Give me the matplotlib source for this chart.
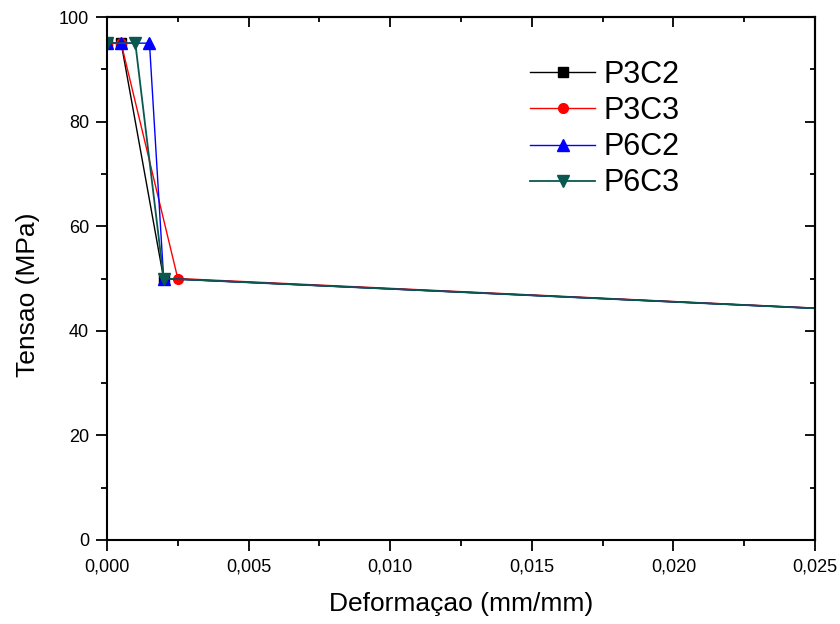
import matplotlib
matplotlib.use('Agg')
import matplotlib.pyplot as plt
from matplotlib.ticker import MultipleLocator, FuncFormatter

plt.rcParams['font.family'] = ['Liberation Sans', 'DejaVu Sans']

# dados (deformacao, tensao)
x_p3c2 = [0.0, 0.0005, 0.002, 0.025]
y_p3c2 = [95, 95, 50, 44.3]
x_p3c3 = [0.0, 0.0005, 0.0025, 0.025]
y_p3c3 = [95, 95, 50, 44.35]
x_p6c2 = [0.0, 0.0005, 0.0015, 0.002, 0.025]
y_p6c2 = [95, 95, 95, 50, 44.3]
x_p6c3 = [0.0, 0.001, 0.002, 0.025]
y_p6c3 = [95, 95, 50, 44.3]

fig = plt.figure(figsize=(8.4, 6.24), dpi=100)
ax = fig.add_axes([107/840, 1 - 540/624, 708/840, 523/624])

ax.plot(x_p3c2, y_p3c2, color='black', lw=1, marker='s', ms=7, markevery=[0, 1, 2], label='P3C2')
ax.plot(x_p3c3, y_p3c3, color='red', lw=1, marker='o', ms=7, markevery=[0, 1, 2], label='P3C3')
ax.plot(x_p6c2, y_p6c2, color='blue', lw=1, marker='^', ms=8, markevery=[0, 1, 2, 3], label='P6C2')
ax.plot(x_p6c3, y_p6c3, color='#0a5850', lw=1.3, marker='v', ms=8, markevery=[0, 1, 2], label='P6C3')

ax.set_xlim(0, 0.025)
ax.set_ylim(0, 100)
ax.xaxis.set_major_locator(MultipleLocator(0.005))
ax.xaxis.set_minor_locator(MultipleLocator(0.0025))
ax.yaxis.set_major_locator(MultipleLocator(20))
ax.yaxis.set_minor_locator(MultipleLocator(10))
ax.xaxis.set_major_formatter(FuncFormatter(lambda v, p: f'{v:.3f}'.replace('.', ',')))

ax.tick_params(which='both', direction='out', top=False, right=False, labelsize=13, width=1.3, pad=5)
ax.tick_params(which='major', length=8)
ax.tick_params(which='minor', length=4.5)

# ticks para dentro no topo e na direita
ax2 = ax.secondary_xaxis('top')
ax2.xaxis.set_major_locator(MultipleLocator(0.005))
ax2.xaxis.set_minor_locator(MultipleLocator(0.0025))
ax2.tick_params(which='both', direction='in', labeltop=False, width=1.3)
ax2.tick_params(which='major', length=7)
ax2.tick_params(which='minor', length=3.5)
ax3 = ax.secondary_yaxis('right')
ax3.yaxis.set_major_locator(MultipleLocator(20))
ax3.yaxis.set_minor_locator(MultipleLocator(10))
ax3.tick_params(which='both', direction='in', labelright=False, width=1.3)
ax3.tick_params(which='major', length=7)
ax3.tick_params(which='minor', length=3.5)
for s in ax.spines.values():
    s.set_linewidth(1.5)
ax2.spines['top'].set_linewidth(1.5)
ax3.spines['right'].set_linewidth(1.5)

ax.set_xlabel('Deformaçao (mm/mm)', fontsize=19, labelpad=12)
ax.set_ylabel('Tensao (MPa)', fontsize=19)
ax.yaxis.set_label_coords(-0.0946, 0.468)

ax.legend(loc='upper left', bbox_to_anchor=(411/708, 0.941), frameon=False, fontsize=22,
          handlelength=2.13, handletextpad=0.26, labelspacing=0.2, borderaxespad=0)

fig.savefig('out.png', dpi=100)
